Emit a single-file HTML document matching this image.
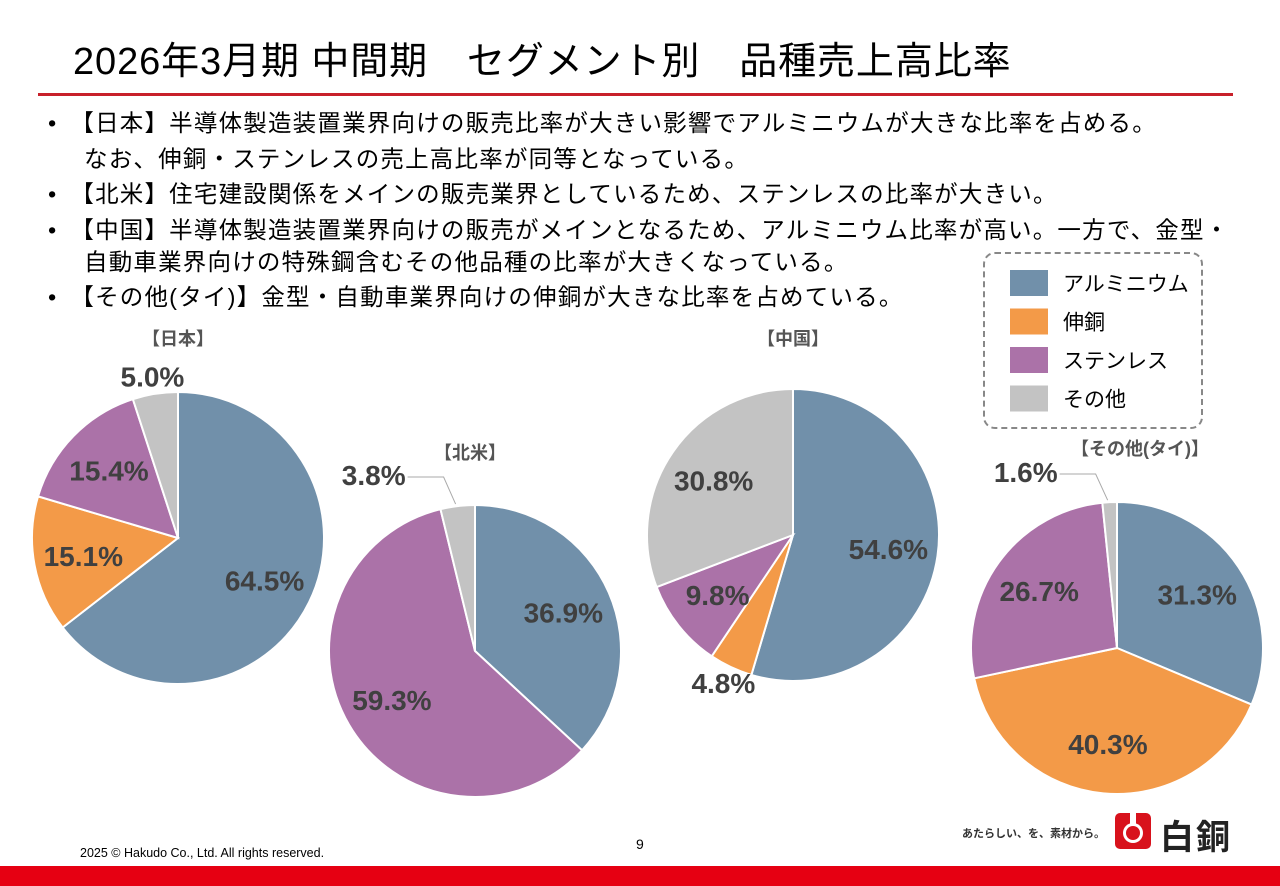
<!DOCTYPE html>
<html><head><meta charset="utf-8"><style>
body{margin:0;width:1280px;height:886px;overflow:hidden;background:#fff;font-family:"Liberation Sans","Noto Sans CJK JP",sans-serif;position:relative}
.t{position:absolute;white-space:nowrap}
.b{font-size:23.5px;color:#000;left:48px;letter-spacing:1.2px}
</style></head><body>
<div class="t" style="left:73px;top:30px;font-size:38px;letter-spacing:0.9px">2026年3月期 中間期　セグメント別　品種売上高比率</div>
<div style="position:absolute;left:38px;top:93px;width:1195px;height:3px;background:#c8202a"></div>
<div class="t b" style="top:104px">•　【日本】半導体製造装置業界向けの販売比率が大きい影響でアルミニウムが大きな比率を占める。</div>
<div class="t b" style="top:140px;left:84px">なお、伸銅・ステンレスの売上高比率が同等となっている。</div>
<div class="t b" style="top:175px">•　【北米】住宅建設関係をメインの販売業界としているため、ステンレスの比率が大きい。</div>
<div class="t b" style="top:211px">•　【中国】半導体製造装置業界向けの販売がメインとなるため、アルミニウム比率が高い。一方で、金型・</div>
<div class="t b" style="top:243px;left:84px">自動車業界向けの特殊鋼含むその他品種の比率が大きくなっている。</div>
<div class="t b" style="top:278px">•　【その他(タイ)】金型・自動車業界向けの伸銅が大きな比率を占めている。</div>

<div style="position:absolute;left:983px;top:252px;width:216px;height:173px;border:2px dashed #888;border-radius:12px"></div>

<svg id="chart" width="1280" height="886" style="position:absolute;left:0;top:0"></svg>

<div class="t" style="left:80px;top:846px;font-size:12.5px">2025 © Hakudo Co., Ltd. All rights reserved.</div>
<div class="t" style="left:636px;top:836px;font-size:14px">9</div>
<div class="t" style="left:962px;top:825px;font-size:11px;font-weight:bold;color:#333">あたらしい、を、素材から。</div>
<div style="position:absolute;left:1115px;top:813px;width:36px;height:36px;background:#d8121c;border-radius:5px"><div style="position:absolute;left:8px;top:10px;width:20px;height:20px;border-radius:50%;background:#fff"></div><div style="position:absolute;left:11px;top:13px;width:14px;height:14px;border-radius:50%;background:#d8121c"></div><div style="position:absolute;left:15px;top:0;width:6px;height:12px;background:#fff"></div></div>
<div class="t" style="left:1160px;top:810px;font-size:34px;font-weight:bold;color:#222;letter-spacing:2px">白銅</div>
<div style="position:absolute;left:0;top:866px;width:1280px;height:20px;background:#e60012"></div>

<script>
const categories=["アルミニウム","伸銅","ステンレス","その他"];
const colors=["#7190aa","#f39a48","#ab72a8","#c3c3c3"];
const regions=["【日本】","【北米】","【中国】","【その他(タイ)】"];
const japan=[64.5,15.1,15.4,5.0];
const northAmerica=[36.9,0,59.3,3.8];
const china=[54.6,4.8,9.8,30.8];
const thai=[31.3,40.3,26.7,1.6];
const series=[japan,northAmerica,china,thai];
const layout=[{cx:178,cy:538,tx:178,ty:345},{cx:475,cy:651,tx:470,ty:459},{cx:793,cy:535,tx:793,ty:345},{cx:1117,cy:648,tx:1140,ty:455}];
const R=146,NS="http://www.w3.org/2000/svg",svg=document.getElementById('chart');
function pt(cx,cy,r,a){return [cx+r*Math.sin(a),cy-r*Math.cos(a)];}
function mk(tag,attrs){const e=document.createElementNS(NS,tag);for(const k in attrs)e.setAttribute(k,attrs[k]);svg.appendChild(e);return e;}
series.forEach((vals,ci)=>{
  const L=layout[ci];const total=vals.reduce((a,b)=>a+b,0);
  let a0=0;
  vals.forEach((v,i)=>{
    if(v<=0)return;
    const a1=a0+v/total*2*Math.PI;
    const p0=pt(L.cx,L.cy,R,a0),p1=pt(L.cx,L.cy,R,a1);
    const large=(a1-a0)>Math.PI?1:0;
    const s=mk('path',{d:`M${L.cx},${L.cy}L${p0[0]},${p0[1]}A${R},${R} 0 ${large} 1 ${p1[0]},${p1[1]}Z`,fill:colors[i],stroke:'#fff','stroke-width':2});
    
    
    const m=(a0+a1)/2;let lp,anchor='middle';
    if(v>=8){lp=pt(L.cx,L.cy,R*0.66,m);}
    else if(v<4){const e=pt(L.cx,L.cy,R,m);const ly=L.cy-R-30;
      const ln=mk('path',{d:`M${e[0]-2},${e[1]-2}L${e[0]-14},${ly+2}L${e[0]-50},${ly+2}`,fill:'none',stroke:'#aaa','stroke-width':1});
      anchor='end';lp=[e[0]-52,ly];}
    else{lp=pt(L.cx,L.cy,R*1.12,m);}
    const t=mk('text',{x:lp[0],y:lp[1]+10,'text-anchor':anchor,'font-size':28,'font-weight':'bold',fill:'#404040','font-family':'Liberation Sans, sans-serif'});
    t.textContent=v.toFixed(1)+'%';
    
    
    a0=a1;
  });
  const tt=mk('text',{x:L.tx,y:L.ty,'text-anchor':'middle','font-size':18,'font-weight':'bold',fill:'#555','font-family':'Liberation Sans, Noto Sans CJK JP, sans-serif'});
  tt.textContent=regions[ci];
  
  
});
categories.forEach((c,i)=>{
  const y=270+i*38.5;
  const sw=mk('rect',{x:1010,y:y,width:38,height:26,fill:colors[i]});
  
  
  const t=mk('text',{x:1063,y:y+21,'font-size':21,fill:'#000','font-family':'Liberation Sans, Noto Sans CJK JP, sans-serif'});
  t.textContent=c;
  
  
});
</script>
</body></html>
